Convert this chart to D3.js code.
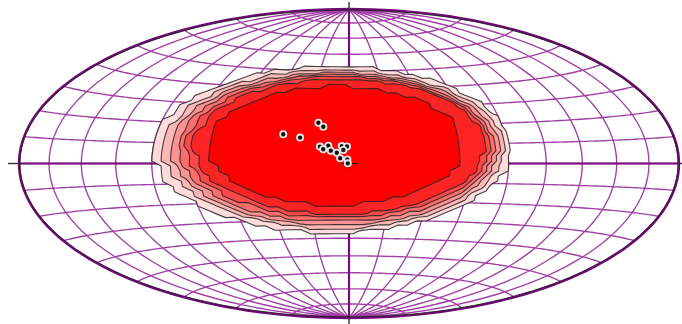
<!DOCTYPE html>
<html>
<head>
<meta charset="utf-8">
<script src="https://cdn.jsdelivr.net/npm/d3@7"></script>
<style>
  html, body { margin: 0; padding: 0; background: #fff; overflow: hidden; }
  svg { display: block; }
</style>
</head>
<body>
<svg id="net" width="682" height="324"></svg>
<script>
// Poles to planes, lower hemisphere (trend / plunge in degrees)
const trends  = [313.5, 318.5, 340.6, 341.9, 321.1, 331.3, 349.0, 356.8, 319.7, 326.5, 332.1, 348.9, 321.5, 349.5, 284.0];
const plunges = [67.6, 71.8, 67.2, 69.6, 78.6, 79.4, 80.7, 81.1, 80.2, 81.9, 83.6, 82.8, 86.5, 87.8, 89.7];

// Density contour levels, each outlined as a cone on the sphere:
// axis trend / plunge and half-angle (degrees), lowest level first
const levelTrend  = [330.4, 333.3, 335.6, 338.4, 341.9, 346.0, 340.5];
const levelPlunge = [80.8, 80.9, 81.1, 80.8, 80.4, 80.3, 79.6];
const levelRadius = [44.8, 42.6, 40.9, 39.4, 37.8, 36.3, 31.7];
const levelColors = ["#ffdbdb", "#ffb6b6", "#ff9292", "#ff6d6d", "#ff4949", "#ff2424", "#ff0000"];

// Net grid spacing and density grid spacing (degrees)
const gridStep = 10;
const cellStep = 2.5;

const cx = 349, cy = 163.5, rx = 330, ry = 154.5;
const svg = d3.select("#net");
const rad = Math.PI / 180;

// Unit-disc net coordinates -> page (the net is drawn as an ellipse)
const sx = d3.scaleLinear().domain([-1, 1]).range([cx - rx, cx + rx]);
const sy = d3.scaleLinear().domain([-1, 1]).range([cy - ry, cy + ry]);

// Schmidt (equal-area) net: Lambert azimuthal, equatorial aspect, one hemisphere
const proj = d3.geoAzimuthalEqualArea()
  .rotate([0, 0])
  .scale(1 / Math.SQRT2)
  .translate([0, 0])
  .clipAngle(90)
  .precision(0.0005);
const stretch = d3.geoTransform({ point(x, y) { this.stream.point(sx(x), sy(y)); } });
const netPath = d3.geoPath({ stream: s => proj.stream(stretch.stream(s)) });

// trend/plunge -> unit vector (east, north, down); vector -> lon/lat on the net sphere
const toVec = (t, p) => [Math.cos(p * rad) * Math.sin(t * rad), Math.cos(p * rad) * Math.cos(t * rad), Math.sin(p * rad)];
const toLonLat = v => [Math.atan2(v[0], v[2]) / rad, Math.asin(v[1]) / rad];
const fromLonLat = (lo, la) => [Math.cos(la * rad) * Math.sin(lo * rad), Math.sin(la * rad), Math.cos(la * rad) * Math.cos(lo * rad)];
const dot = (a, b) => a[0] * b[0] + a[1] * b[1] + a[2] * b[2];

const poles = trends.map((t, i) => toVec(t, plunges[i]));
const cones = levelTrend.map((t, i) => ({ axis: toVec(t, levelPlunge[i]), cosR: Math.cos(levelRadius[i] * rad) }));

// graticule: great circles through N/S and small circles about E-W
const graticule = d3.geoGraticule()
  .extent([[-180, -90], [180, 90]])
  .step([gridStep, gridStep])
  .precision(1);

const gGrid = svg.append("g");
gGrid.append("path")
  .datum(graticule())
  .attr("d", netPath)
  .attr("fill", "none")
  .attr("stroke", "#8e1f93")
  .attr("stroke-opacity", 0.85)
  .attr("stroke-width", 1.35);
gGrid.append("path")
  .datum({ type: "MultiLineString", coordinates: [
    d3.range(-90, 90.01, 1).map(la => [0, la]),
    d3.range(-90, 90.01, 1).map(lo => [lo, 0])
  ] })
  .attr("d", netPath)
  .attr("fill", "none")
  .attr("stroke", "#7a0a7f")
  .attr("stroke-width", 2.2);

// level field on a lon/lat grid over the hemisphere
const n = Math.round(180 / cellStep);
const field = new Array(n * n);
for (let j = 0; j < n; ++j) {
  const la = 90 - cellStep * (j + 0.5);
  for (let i = 0; i < n; ++i) {
    const lo = -90 + cellStep * (i + 0.5);
    const v = fromLonLat(lo, la);
    field[j * n + i] = d3.sum(cones, c => Math.abs(dot(v, c.axis)) >= c.cosR ? 1 : 0);
  }
}
const bands = d3.contours().size([n, n]).thresholds(d3.range(0.5, cones.length, 1))(field);
const cellPath = d3.geoPath(d3.geoTransform({
  point(x, y) {
    const p = proj([-90 + cellStep * x, 90 - cellStep * y]);
    this.stream.point(sx(p[0]), sy(p[1]));
  }
}));

svg.append("g")
  .selectAll("path")
  .data(bands)
  .join("path")
  .attr("d", cellPath)
  .attr("fill", (d, i) => levelColors[i])
  .attr("stroke", "#222")
  .attr("stroke-opacity", 0.85)
  .attr("stroke-width", 1.1)
  .attr("stroke-linejoin", "round");

// primitive circle and cardinal ticks
svg.append("path")
  .datum({ type: "Sphere" })
  .attr("d", netPath)
  .attr("fill", "none")
  .attr("stroke", "#6e0a74")
  .attr("stroke-width", 2.4);
svg.append("ellipse")
  .attr("cx", cx).attr("cy", cy).attr("rx", rx - 1).attr("ry", ry - 1)
  .attr("fill", "none")
  .attr("stroke", "#1a1a1a")
  .attr("stroke-opacity", 0.8)
  .attr("stroke-width", 1);

const ticks = [
  [sx(0), sy(-1) - 7, sx(0), sy(-1)],
  [sx(0), sy(1), sx(0), sy(1) + 7],
  [sx(-1) - 11, sy(0), sx(-1), sy(0)],
  [sx(1), sy(0), sx(1) + 11, sy(0)]
];
svg.append("g")
  .selectAll("line")
  .data(ticks)
  .join("line")
  .attr("x1", d => d[0]).attr("y1", d => d[1])
  .attr("x2", d => d[2]).attr("y2", d => d[3])
  .attr("stroke", "#333")
  .attr("stroke-width", 1.4);

// centre mark
svg.append("path")
  .attr("d", `M${sx(0) - 8},${sy(0)}H${sx(0) + 8}M${sx(0)},${sy(0) - 5}V${sy(0) + 5}`)
  .attr("stroke", "#111")
  .attr("stroke-width", 1.2);

// data points
svg.append("g")
  .selectAll("circle")
  .data(poles.map(q => proj(toLonLat(q))))
  .join("circle")
  .attr("cx", p => sx(p[0]))
  .attr("cy", p => sy(p[1]))
  .attr("r", 3.1)
  .attr("fill", "#111")
  .attr("stroke", "#e6e6e6")
  .attr("stroke-width", 1.8);
</script>
</body>
</html>
